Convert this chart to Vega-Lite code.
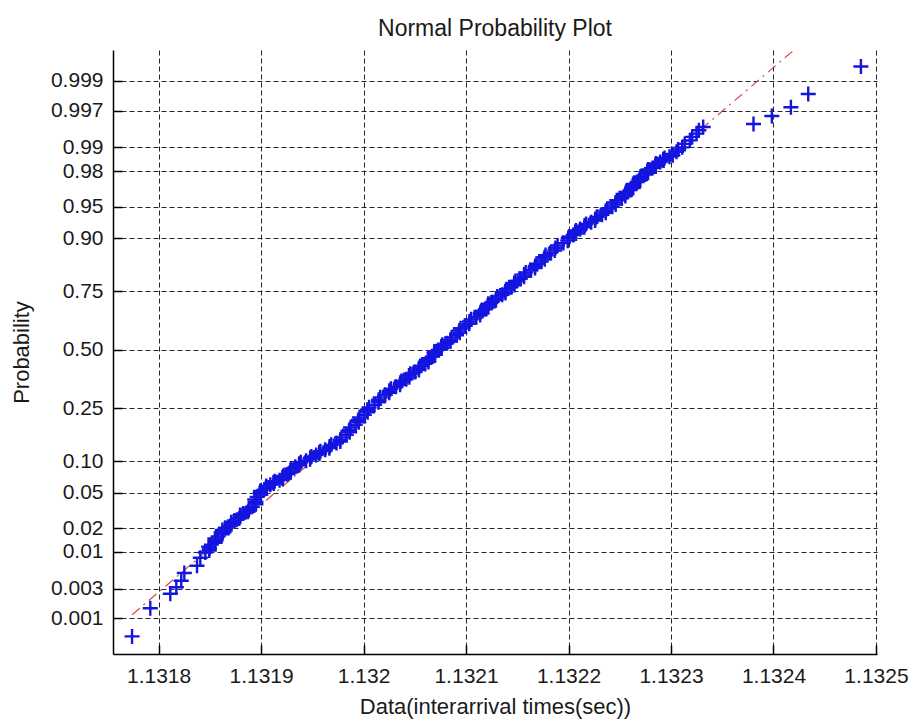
{
  "$schema": "https://vega.github.io/schema/vega-lite/v6.json",
  "autosize": {"type": "none"},
  "padding": {"left": 113, "top": 50, "right": 36, "bottom": 69},
  "width": 764,
  "height": 604,
  "background": "white",
  "config": {
    "view": {"stroke": null},
    "font": "Liberation Sans",
    "axis": {
      "labelFont": "Liberation Sans",
      "titleFont": "Liberation Sans",
      "labelFontSize": 21,
      "labelColor": "#1a1a1a",
      "titleFontSize": 22,
      "titleFontWeight": "normal",
      "titleColor": "#1a1a1a",
      "domainColor": "#000000",
      "domainWidth": 1.5,
      "tickColor": "#000000",
      "tickWidth": 1.5,
      "tickSize": -9,
      "labelPadding": 20,
      "grid": true,
      "gridColor": "#000000",
      "gridOpacity": 0.85,
      "gridWidth": 1,
      "gridDash": [5, 3]
    }
  },
  "title": {
    "text": "Normal Probability Plot",
    "font": "Liberation Sans",
    "fontSize": 23,
    "fontWeight": "normal",
    "color": "#1a1a1a",
    "anchor": "middle",
    "baseline": "alphabetic",
    "offset": 18,
    "dy": 27
  },
  "datasets": {
    "samples": [
      {"x": 1.1317741, "q": -3.297},
      {"x": 1.1317919, "q": -2.973},
      {"x": 1.1318114, "q": -2.806},
      {"x": 1.1318173, "q": -2.732},
      {"x": 1.1318221, "q": -2.657},
      {"x": 1.1318251, "q": -2.568},
      {"x": 1.1318375, "q": -2.484},
      {"x": 1.1318407, "q": -2.393},
      {"x": 1.1318456, "q": -2.332},
      {"x": 1.1318496, "q": -2.287},
      {"x": 1.1318515, "q": -2.242},
      {"x": 1.1318553, "q": -2.197},
      {"x": 1.1318581, "q": -2.147},
      {"x": 1.1318628, "q": -2.098},
      {"x": 1.1318651, "q": -2.048},
      {"x": 1.1318712, "q": -2.006},
      {"x": 1.131874, "q": -1.963},
      {"x": 1.1318797, "q": -1.921},
      {"x": 1.1318826, "q": -1.883},
      {"x": 1.1318881, "q": -1.844},
      {"x": 1.1318914, "q": -1.806},
      {"x": 1.131895, "q": -1.75},
      {"x": 1.1318962, "q": -1.693},
      {"x": 1.1318992, "q": -1.637},
      {"x": 1.1319031, "q": -1.609},
      {"x": 1.1319047, "q": -1.581},
      {"x": 1.131909, "q": -1.553},
      {"x": 1.1319121, "q": -1.526},
      {"x": 1.131918, "q": -1.5},
      {"x": 1.1319207, "q": -1.473},
      {"x": 1.1319259, "q": -1.431},
      {"x": 1.1319286, "q": -1.389},
      {"x": 1.1319334, "q": -1.347},
      {"x": 1.1319371, "q": -1.312},
      {"x": 1.1319439, "q": -1.278},
      {"x": 1.131948, "q": -1.243},
      {"x": 1.1319537, "q": -1.212},
      {"x": 1.1319567, "q": -1.182},
      {"x": 1.1319626, "q": -1.151},
      {"x": 1.1319669, "q": -1.113},
      {"x": 1.1319736, "q": -1.074},
      {"x": 1.1319773, "q": -1.036},
      {"x": 1.1319832, "q": -0.979},
      {"x": 1.1319862, "q": -0.921},
      {"x": 1.1319919, "q": -0.864},
      {"x": 1.131995, "q": -0.806},
      {"x": 1.1320007, "q": -0.749},
      {"x": 1.1320036, "q": -0.691},
      {"x": 1.1320107, "q": -0.634},
      {"x": 1.1320147, "q": -0.576},
      {"x": 1.1320212, "q": -0.519},
      {"x": 1.1320251, "q": -0.473},
      {"x": 1.1320317, "q": -0.427},
      {"x": 1.1320358, "q": -0.381},
      {"x": 1.1320415, "q": -0.339},
      {"x": 1.1320443, "q": -0.297},
      {"x": 1.1320504, "q": -0.255},
      {"x": 1.132054, "q": -0.209},
      {"x": 1.1320599, "q": -0.163},
      {"x": 1.1320631, "q": -0.117},
      {"x": 1.1320674, "q": -0.079},
      {"x": 1.1320688, "q": -0.04},
      {"x": 1.1320729, "q": -0.002},
      {"x": 1.1320758, "q": 0.036},
      {"x": 1.1320813, "q": 0.075},
      {"x": 1.1320846, "q": 0.113},
      {"x": 1.1320907, "q": 0.167},
      {"x": 1.1320935, "q": 0.22},
      {"x": 1.1320992, "q": 0.274},
      {"x": 1.1321033, "q": 0.324},
      {"x": 1.13211, "q": 0.374},
      {"x": 1.1321139, "q": 0.424},
      {"x": 1.1321188, "q": 0.466},
      {"x": 1.1321211, "q": 0.508},
      {"x": 1.1321256, "q": 0.55},
      {"x": 1.1321292, "q": 0.59},
      {"x": 1.1321352, "q": 0.631},
      {"x": 1.1321382, "q": 0.671},
      {"x": 1.1321439, "q": 0.719},
      {"x": 1.132147, "q": 0.766},
      {"x": 1.1321529, "q": 0.814},
      {"x": 1.1321566, "q": 0.864},
      {"x": 1.1321634, "q": 0.914},
      {"x": 1.1321675, "q": 0.964},
      {"x": 1.1321734, "q": 1.014},
      {"x": 1.1321766, "q": 1.063},
      {"x": 1.1321821, "q": 1.113},
      {"x": 1.1321872, "q": 1.169},
      {"x": 1.132195, "q": 1.226},
      {"x": 1.1321997, "q": 1.282},
      {"x": 1.1322046, "q": 1.318},
      {"x": 1.1322065, "q": 1.353},
      {"x": 1.1322114, "q": 1.389},
      {"x": 1.1322157, "q": 1.427},
      {"x": 1.1322221, "q": 1.466},
      {"x": 1.132226, "q": 1.504},
      {"x": 1.1322327, "q": 1.551},
      {"x": 1.1322363, "q": 1.598},
      {"x": 1.1322426, "q": 1.645},
      {"x": 1.1322458, "q": 1.694},
      {"x": 1.1322519, "q": 1.742},
      {"x": 1.1322553, "q": 1.791},
      {"x": 1.1322602, "q": 1.837},
      {"x": 1.1322625, "q": 1.883},
      {"x": 1.132267, "q": 1.929},
      {"x": 1.1322695, "q": 1.971},
      {"x": 1.1322747, "q": 2.014},
      {"x": 1.1322768, "q": 2.056},
      {"x": 1.132282, "q": 2.09},
      {"x": 1.1322847, "q": 2.125},
      {"x": 1.1322895, "q": 2.159},
      {"x": 1.1322924, "q": 2.19},
      {"x": 1.1322985, "q": 2.22},
      {"x": 1.1323012, "q": 2.251},
      {"x": 1.1323054, "q": 2.276},
      {"x": 1.1323069, "q": 2.302},
      {"x": 1.1323109, "q": 2.327},
      {"x": 1.1323134, "q": 2.367},
      {"x": 1.1323184, "q": 2.407},
      {"x": 1.1323207, "q": 2.447},
      {"x": 1.1323249, "q": 2.485},
      {"x": 1.1323272, "q": 2.523},
      {"x": 1.1323314, "q": 2.561},
      {"x": 1.1323805, "q": 2.596},
      {"x": 1.1323984, "q": 2.688},
      {"x": 1.132417, "q": 2.788},
      {"x": 1.1324339, "q": 2.941},
      {"x": 1.1324853, "q": 3.257},
      {"x": 1.1318494, "q": -2.31},
      {"x": 1.1318488, "q": -2.265},
      {"x": 1.1318552, "q": -2.22},
      {"x": 1.1318549, "q": -2.172},
      {"x": 1.1318622, "q": -2.123},
      {"x": 1.1318622, "q": -2.073},
      {"x": 1.13187, "q": -2.027},
      {"x": 1.1318708, "q": -1.985},
      {"x": 1.1318787, "q": -1.942},
      {"x": 1.1318794, "q": -1.902},
      {"x": 1.1318872, "q": -1.864},
      {"x": 1.131888, "q": -1.825},
      {"x": 1.131895, "q": -1.778},
      {"x": 1.1318938, "q": -1.722},
      {"x": 1.1318995, "q": -1.665},
      {"x": 1.1318994, "q": -1.623},
      {"x": 1.1319057, "q": -1.595},
      {"x": 1.1319051, "q": -1.567},
      {"x": 1.1319124, "q": -1.54},
      {"x": 1.1319133, "q": -1.513},
      {"x": 1.1319212, "q": -1.487},
      {"x": 1.1319215, "q": -1.452},
      {"x": 1.1319291, "q": -1.41},
      {"x": 1.1319292, "q": -1.368},
      {"x": 1.1319371, "q": -1.33},
      {"x": 1.1319387, "q": -1.295},
      {"x": 1.1319478, "q": -1.261},
      {"x": 1.1319491, "q": -1.228},
      {"x": 1.131957, "q": -1.197},
      {"x": 1.1319579, "q": -1.167},
      {"x": 1.1319666, "q": -1.132},
      {"x": 1.1319685, "q": -1.094},
      {"x": 1.1319773, "q": -1.055},
      {"x": 1.1319785, "q": -1.008},
      {"x": 1.1319865, "q": -0.95},
      {"x": 1.1319873, "q": -0.893},
      {"x": 1.1319953, "q": -0.835},
      {"x": 1.1319961, "q": -0.778},
      {"x": 1.132004, "q": -0.72},
      {"x": 1.1320054, "q": -0.663},
      {"x": 1.1320145, "q": -0.605},
      {"x": 1.1320162, "q": -0.548},
      {"x": 1.132025, "q": -0.496},
      {"x": 1.1320266, "q": -0.45},
      {"x": 1.1320356, "q": -0.404},
      {"x": 1.1320369, "q": -0.36},
      {"x": 1.1320447, "q": -0.318},
      {"x": 1.1320456, "q": -0.276},
      {"x": 1.132054, "q": -0.232},
      {"x": 1.1320552, "q": -0.186},
      {"x": 1.1320633, "q": -0.14},
      {"x": 1.1320635, "q": -0.098},
      {"x": 1.1320699, "q": -0.06},
      {"x": 1.1320691, "q": -0.021},
      {"x": 1.1320762, "q": 0.017},
      {"x": 1.1320768, "q": 0.056},
      {"x": 1.1320848, "q": 0.094},
      {"x": 1.1320859, "q": 0.14},
      {"x": 1.1320939, "q": 0.194},
      {"x": 1.1320946, "q": 0.247},
      {"x": 1.1321031, "q": 0.299},
      {"x": 1.1321049, "q": 0.349},
      {"x": 1.1321138, "q": 0.399},
      {"x": 1.1321146, "q": 0.445},
      {"x": 1.1321218, "q": 0.487},
      {"x": 1.1321216, "q": 0.529},
      {"x": 1.1321292, "q": 0.57},
      {"x": 1.1321304, "q": 0.611},
      {"x": 1.1321385, "q": 0.651},
      {"x": 1.1321393, "q": 0.695},
      {"x": 1.1321473, "q": 0.743},
      {"x": 1.1321482, "q": 0.79},
      {"x": 1.1321566, "q": 0.839},
      {"x": 1.1321582, "q": 0.889},
      {"x": 1.1321673, "q": 0.939},
      {"x": 1.1321687, "q": 0.989},
      {"x": 1.1321768, "q": 1.039},
      {"x": 1.1321776, "q": 1.088},
      {"x": 1.1321865, "q": 1.141},
      {"x": 1.1321893, "q": 1.198},
      {"x": 1.1321992, "q": 1.254},
      {"x": 1.1322004, "q": 1.3},
      {"x": 1.1322074, "q": 1.336},
      {"x": 1.1322072, "q": 1.371},
      {"x": 1.1322154, "q": 1.408},
      {"x": 1.1322171, "q": 1.447},
      {"x": 1.1322259, "q": 1.485},
      {"x": 1.1322276, "q": 1.528},
      {"x": 1.1322363, "q": 1.575},
      {"x": 1.1322377, "q": 1.622},
      {"x": 1.132246, "q": 1.67},
      {"x": 1.1322471, "q": 1.718},
      {"x": 1.1322554, "q": 1.767},
      {"x": 1.132256, "q": 1.814},
      {"x": 1.1322632, "q": 1.86},
      {"x": 1.132263, "q": 1.906},
      {"x": 1.1322701, "q": 1.95},
      {"x": 1.1322703, "q": 1.993},
      {"x": 1.1322776, "q": 2.035},
      {"x": 1.1322776, "q": 2.073},
      {"x": 1.1322852, "q": 2.108},
      {"x": 1.1322853, "q": 2.142},
      {"x": 1.1322928, "q": 2.175},
      {"x": 1.1322937, "q": 2.205},
      {"x": 1.1323017, "q": 2.236}
    ],
    "fit": [
      {"x": 1.1317741, "q": -3.048},
      {"x": 1.1324853, "q": 4.104}
    ]
  },
  "encoding": {
    "x": {
      "field": "x",
      "type": "quantitative",
      "scale": {"domain": [1.1317555, 1.132501], "nice": false, "zero": false},
      "axis": {
        "values": [1.1318, 1.1319, 1.132, 1.1321, 1.1322, 1.1323, 1.1324, 1.1325],
        "format": ".4~f",
        "labelBaseline": "top",
        "labelPadding": 20,
        "title": "Data(interarrival times(sec))",
        "titleBaseline": "alphabetic",
        "titleY": 59
      }
    },
    "y": {
      "field": "q",
      "type": "quantitative",
      "scale": {"domain": [-3.4994, 3.4466], "nice": false, "zero": false},
      "axis": {
        "values": [-3.0902, -2.7478, -2.3263, -2.0537, -1.6449, -1.2816, -0.6745, 0, 0.6745, 1.2816, 1.6449, 2.0537, 2.3263, 2.7478, 3.0902],
        "labelExpr": "(cumulativeNormal(datum.value) < 0.008 || cumulativeNormal(datum.value) > 0.992) ? format(cumulativeNormal(datum.value), '.3f') : format(cumulativeNormal(datum.value), '.2f')",
        "labelPadding": 19,
        "title": "Probability",
        "titleAngle": 270,
        "titleBaseline": "alphabetic",
        "titleX": -85,
        "titleY": 302
      }
    }
  },
  "layer": [
    {
      "data": {"name": "fit"},
      "mark": {"type": "line", "clip": true, "color": "#d02828", "strokeWidth": 1.2, "strokeDash": [10, 5, 2, 5], "opacity": 0.85}
    },
    {
      "data": {"name": "samples"},
      "mark": {"type": "point", "shape": "M-1,0H1M0,-1V1", "filled": false, "color": "#1414e0", "strokeWidth": 2.4, "size": 225, "opacity": 1}
    }
  ]
}
